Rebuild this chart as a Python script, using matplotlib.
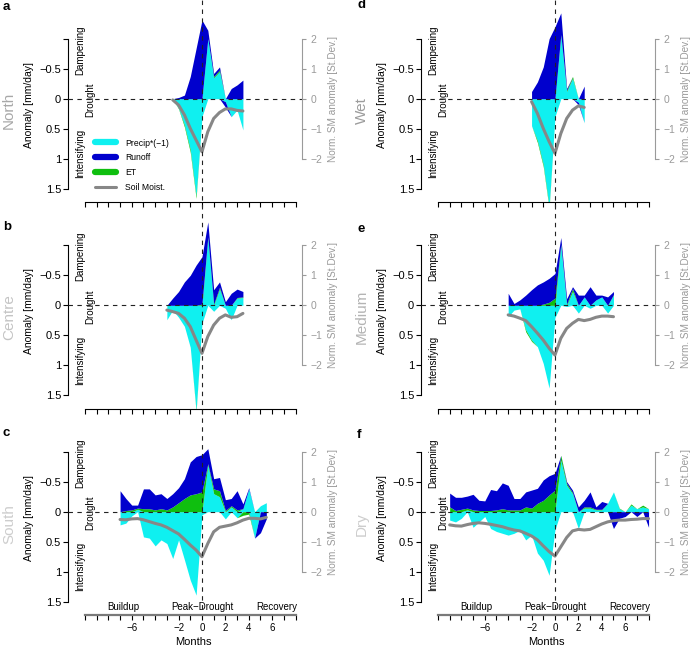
import numpy as np
import matplotlib
matplotlib.use('Agg')
import matplotlib.pyplot as plt
from matplotlib.lines import Line2D
from matplotlib.transforms import blended_transform_factory

plt.rcParams['font.family'] = ['Liberation Sans', 'DejaVu Sans']

# anomalies in mm/day, positive = intensifying the drought (plotted downwards)
# soil moisture anomaly in standard deviations
t_north = np.arange(-2.5, 3.51, 0.5)
precip_north = [0.0, 0.16, 0.44, 0.85, 1.62, 0.3, -1.0, -0.35, -0.45, 0.05, 0.3, 0.19, 0.52]
et_north = [0.0, 0.01, 0.03, 0.04, 0.04, 0.0, 0.0, -0.02, -0.03, 0.0, 0.0, 0.0, 0.0]
runoff_north = [0.0, -0.02, -0.06, -0.37, -0.84, -1.31, -0.14, -0.05, -0.05, 0.09, -0.17, -0.23, -0.31]
sm_north = [-0.04, -0.21, -0.54, -0.99, -1.38, -1.77, -1.1, -0.66, -0.46, -0.34, -0.34, -0.39, -0.41]

t_centre = np.arange(-3.0, 3.51, 0.5)
precip_centre = [0.24, 0.08, 0.2, 0.35, 0.7, 1.75, 0.3, -1.12, 0.1, -0.27, 0.05, 0.24, -0.12, -0.13]
et_centre = [0.0, 0.0, 0.0, 0.0, 0.0, 0.02, -0.02, -0.02, -0.02, -0.03, 0.0, 0.0, -0.01, -0.01]
runoff_centre = [0.0, -0.12, -0.23, -0.39, -0.5, -0.67, -0.79, -0.25, -0.24, -0.09, -0.06, -0.2, -0.14, -0.09]
sm_centre = [-0.16, -0.21, -0.27, -0.43, -0.71, -1.16, -1.6, -1.04, -0.66, -0.43, -0.32, -0.4, -0.38, -0.27]

t_south = np.arange(-7.0, 5.51, 0.5)
precip_south = [0.22, 0.19, 0.07, -0.04, 0.42, 0.44, 0.57, 0.47, 0.53, 0.78, 0.47, 0.80, 1.14,
                1.39, 0.05, -0.78, -0.30, -0.25, 0.12, -0.08, 0.10, -0.05, -0.38, 0.44, -0.10, -0.15]
et_south = [0.0, -0.02, -0.03, -0.02, -0.05, -0.05, -0.03, -0.05, -0.03, -0.08, -0.15, -0.22, -0.28,
            -0.30, -0.33, -0.02, -0.08, -0.10, -0.02, -0.02, -0.03, 0.06, 0.04, 0.0, 0.0, 0.0]
runoff_south = [-0.35, -0.20, -0.08, -0.05, -0.33, -0.33, -0.25, -0.25, -0.19, -0.22, -0.25, -0.33, -0.55,
                -0.62, -0.62, -0.25, -0.17, -0.22, -0.18, -0.12, -0.32, -0.08, -0.02, 0.0, 0.35, 0.12]
sm_south = [-0.26, -0.27, -0.24, -0.23, -0.27, -0.33, -0.39, -0.44, -0.52, -0.63, -0.74, -0.92, -1.11,
            -1.28, -1.5, -1.06, -0.67, -0.52, -0.48, -0.44, -0.37, -0.28, -0.22, -0.22, -0.24, -0.19]

t_wet = np.arange(-2.0, 2.51, 0.5)
precip_wet = [0.45, 0.7, 1.1, 1.8, 0.3, -1.05, -0.12, -0.34, 0.06, 0.4]
et_wet = [0.0, 0.03, 0.03, 0.03, 0.0, -0.02, -0.02, -0.03, 0.0, 0.0]
runoff_wet = [-0.12, -0.28, -0.53, -1.0, -1.2, -0.36, -0.03, 0.0, 0.04, -0.21]
sm_wet = [-0.1, -0.49, -0.99, -1.43, -1.82, -1.16, -0.66, -0.38, -0.24, -0.29]

t_medium = np.arange(-4.0, 5.01, 0.5)
precip_medium = [0.19, 0.08, 0.06, 0.41, 0.58, 0.69, 0.97, 1.38, 0.2, -1.0, 0.02, -0.23, 0.13,
                 -0.14, 0.05, -0.09, -0.14, 0.13, -0.17]
et_medium = [0.0, 0.0, 0.0, 0.03, 0.02, 0.0, -0.02, -0.05, -0.12, -0.02, -0.02, -0.05, 0.0,
             0.0, 0.0, 0.0, 0.0, 0.0, -0.01]
runoff_medium = [-0.2, -0.03, -0.09, -0.17, -0.26, -0.34, -0.37, -0.40, -0.41, -0.11, -0.09, -0.03, -0.17,
                 -0.03, -0.31, -0.08, -0.03, -0.14, -0.05]
sm_medium = [-0.32, -0.36, -0.43, -0.51, -0.71, -0.93, -1.16, -1.43, -1.66, -1.1, -0.77, -0.6, -0.47,
             -0.51, -0.47, -0.4, -0.36, -0.36, -0.38]

t_dry = np.arange(-9.0, 8.01, 0.5)
precip_dry = [0.14, 0.17, 0.11, -0.03, 0.26, 0.17, 0.08, 0.28, 0.33, 0.36, 0.39, 0.36, 0.31, 0.47, 0.39,
              0.69, 0.81, 1.06, 0.3, -0.86, -0.44, -0.3, 0.28, -0.06, -0.06, -0.03, -0.03, -0.14, -0.33,
              -0.05, 0.0, -0.11, -0.05, -0.08, -0.05]
et_dry = [-0.08, -0.02, -0.04, -0.03, -0.03, -0.02, -0.02, -0.02, -0.03, -0.05, -0.03, -0.03, -0.03, -0.08,
          -0.06, -0.14, -0.19, -0.28, -0.36, -0.08, -0.03, -0.02, 0.0, -0.02, -0.02, -0.01, -0.01, 0.0, 0.0,
          -0.01, 0.0, -0.02, 0.0, -0.03, 0.0]
runoff_dry = [-0.23, -0.22, -0.20, -0.20, -0.26, -0.17, -0.16, -0.35, -0.32, -0.43, -0.41, -0.19, -0.19, -0.25,
              -0.30, -0.25, -0.34, -0.32, -0.28, 0.0, -0.03, -0.04, -0.08, -0.11, -0.25, -0.04, -0.13, 0.0,
              0.28, 0.11, 0.08, 0.0, 0.08, 0.0, 0.26]
sm_dry = [-0.44, -0.47, -0.48, -0.43, -0.39, -0.37, -0.39, -0.42, -0.46, -0.5, -0.56, -0.61, -0.64, -0.72,
          -0.81, -0.94, -1.14, -1.33, -1.48, -1.17, -0.86, -0.64, -0.59, -0.61, -0.59, -0.5, -0.41, -0.34,
          -0.3, -0.28, -0.28, -0.26, -0.25, -0.23, -0.23]

panel_letters = ['a', 'b', 'c', 'd', 'e', 'f']
row_names = ['North', 'Centre', 'South', 'Wet', 'Medium', 'Dry']
row_colors = ['#a8a8a8', '#c4c4c4', '#cdcdcd', '#9c9c9c', '#b4b4b4', '#cdcdcd']
phase_labels = ['Buildup', 'Peak\u2212Drought', 'Recovery']
phase_pos = [-6.7, 0.05, 6.35]
month_ticks = list(range(-10, 9))
labelled_months = [-6, -2, 0, 2, 4, 6]

C_PRECIP = '#0ff0f0'
C_RUNOFF = '#0000cd'
C_ET = '#0fbf0f'
C_SM = '#878787'
C_AX2 = '#9a9a9a'

panels = [
    (t_north, precip_north, et_north, runoff_north, sm_north),
    (t_centre, precip_centre, et_centre, runoff_centre, sm_centre),
    (t_south, precip_south, et_south, runoff_south, sm_south),
    (t_wet, precip_wet, et_wet, runoff_wet, sm_wet),
    (t_medium, precip_medium, et_medium, runoff_medium, sm_medium),
    (t_dry, precip_dry, et_dry, runoff_dry, sm_dry),
]

W, H = 692, 646
fig = plt.figure(figsize=(W / 100, H / 100), dpi=100)

XLIM = (-11.45, 8.55)
YLIM = (1.72, -1.5)
col_x = [(68, 302), (421, 655)]
row_zero = [98.7, 305.3, 511.7]
letter_y = [[6.5, 227, 433], [5, 229, 435]]


def fx(x):
    return x / W


def fy(y):
    return 1 - y / H


def draw_fluxes(ax, t, precip, et, runoff):
    down = np.zeros(len(t))
    up = np.zeros(len(t))
    for vals, col in ((precip, C_PRECIP), (et, C_ET), (runoff, C_RUNOFF)):
        v = np.asarray(vals, float)
        pos = np.clip(v, 0, None)
        neg = np.clip(v, None, 0)
        ax.fill_between(t, down, down + pos, color=col, lw=0)
        ax.fill_between(t, up, up + neg, color=col, lw=0)
        down = down + pos
        up = up + neg


last_ax = {}
for i, (t, pr, et, ro, sm) in enumerate(panels):
    col, row = divmod(i, 3)
    x0, x1 = col_x[col]
    z = row_zero[row]
    top, bot = z - 90, z + 103.2
    ax = fig.add_axes([fx(x0), fy(bot), fx(x1 - x0), (bot - top) / H])
    ax.set_facecolor('none')
    ax.set_xlim(*XLIM)
    ax.set_ylim(*YLIM)

    draw_fluxes(ax, t, pr, et, ro)
    ax.axhline(0, color='#222222', lw=0.8, ls=(0, (4, 4)), zorder=5)

    for s in ('top', 'right'):
        ax.spines[s].set_visible(False)
    ax.spines['left'].set_bounds(-1, 1.5)
    ax.spines['left'].set_linewidth(0.8)
    ax.spines['bottom'].set_bounds(-10, 8)
    ax.set_yticks([-1, -0.5, 0, 0.5, 1, 1.5])
    ax.set_yticklabels(['', '\u22120.5', '0', '0.5', '1', '1.5'])
    ax.tick_params(axis='y', length=3.5, width=0.8, labelsize=8, pad=1.5)
    ax.set_xticks(month_ticks)
    ax.tick_params(axis='x', length=3.5, width=0.8, labelsize=7, pad=2)
    if row == 2:
        ax.set_xticklabels([('%d' % m).replace('-', '\u2212') if m in labelled_months else ''
                            for m in month_ticks])
        ax.spines['bottom'].set_color('#7a7a7a')
        ax.spines['bottom'].set_linewidth(1.6)
        for lab, xp in zip(phase_labels, phase_pos):
            ax.text(xp, 1.58, lab, ha='center', va='center', fontsize=7)
        last_ax[col] = ax
        fig.text(fx(x0 + 125), fy(642), 'Months', ha='center', va='center', fontsize=8)
    else:
        ax.set_xticklabels([])
        ax.spines['bottom'].set_linewidth(0.8)

    ax.text(-10.43, -0.81, 'Dampening', rotation=90, ha='center', va='center', fontsize=7)
    ax.text(-9.55, 0.02, 'Drought', rotation=90, ha='center', va='center', fontsize=7)
    ax.text(-10.43, 0.92, 'Intensifying', rotation=90, ha='center', va='center', fontsize=7)

    ax2 = ax.twinx()
    ax2.set_facecolor('none')
    ax2.set_ylim(-2 * YLIM[0], -2 * YLIM[1])
    ax2.plot(t, sm, color=C_SM, lw=2.2, solid_capstyle='round', solid_joinstyle='round')
    for s in ('top', 'left', 'bottom'):
        ax2.spines[s].set_visible(False)
    ax2.spines['right'].set_bounds(-2, 2)
    ax2.spines['right'].set_color(C_AX2)
    ax2.spines['right'].set_linewidth(0.8)
    ax2.set_yticks([-2, -1, 0, 1, 2])
    ax2.set_yticklabels(['\u22122', '\u22121', '0', '1', '2'])
    ax2.tick_params(axis='y', colors=C_AX2, length=3, width=0.8, labelsize=7.5, pad=3)

    # texts around the panel
    fig.text(fx(x0 - 39), fy(z + 6), 'Anomaly [mm/day]', rotation=90, ha='center', va='center', fontsize=7.5)
    fig.text(fx(x1 + 31), fy(z), 'Norm. SM anomaly [St.Dev.]', rotation=90, ha='center', va='center',
             fontsize=7.2, color=C_AX2)
    fig.text(fx(x0 - 59), fy(z + 12), row_names[i], rotation=90, ha='center', va='center',
             fontsize=11, color=row_colors[i])
    fig.text(fx(x0 - 65 + col), fy(letter_y[col][row]), panel_letters[i],
             fontsize=9.5, fontweight='bold', ha='left', va='center')

    if row == 0 and col == 0:
        handles = [Line2D([], [], color=C_PRECIP, lw=4.5, solid_capstyle='round'),
                   Line2D([], [], color=C_RUNOFF, lw=4.5, solid_capstyle='round'),
                   Line2D([], [], color=C_ET, lw=4.5, solid_capstyle='round'),
                   Line2D([], [], color=C_SM, lw=2.2, solid_capstyle='round')]
        ax2.legend(handles, ['Precip*(\u22121)', 'Runoff', 'ET', 'Soil Moist.'],
                   loc='upper left', bbox_to_anchor=(fx(95), fy(138.5)), bbox_transform=fig.transFigure,
                   frameon=False, fontsize=6.2, handlelength=2.4, handletextpad=1.1,
                   labelspacing=0.66, borderpad=0, borderaxespad=0)

# vertical dashed peak-drought line through each column
for col, ax in last_ax.items():
    tr = blended_transform_factory(ax.transData, fig.transFigure)
    fig.add_artist(Line2D([0, 0], [fy(609), 1.0], transform=tr, color='#222222', lw=0.8, ls=(0, (4, 4))))

fig.savefig('out.png', dpi=100)
